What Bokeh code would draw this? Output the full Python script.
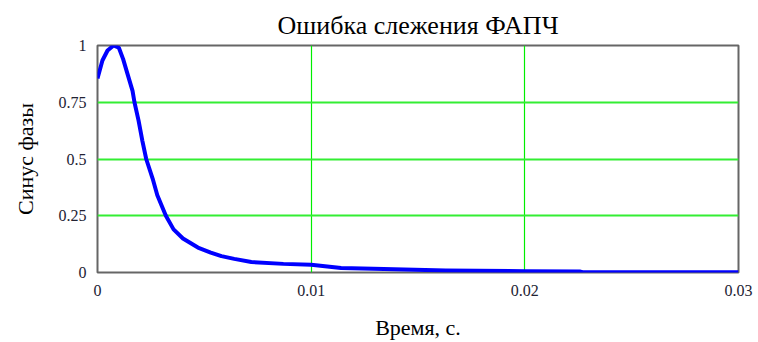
from bokeh.plotting import figure
from bokeh.models import FixedTicker, Range1d
from bokeh.embed import file_html
from bokeh.resources import INLINE

# Data
time_s = [0, 0.00023, 0.00047, 0.00075, 0.001, 0.0012, 0.0014, 0.00164, 0.00173,
          0.00192, 0.0021, 0.00228, 0.00258, 0.0028, 0.0032, 0.00356, 0.004, 0.0047,
          0.0053, 0.0058, 0.0064, 0.0072, 0.0087, 0.01, 0.0114, 0.0134, 0.0163,
          0.0200, 0.0226, 0.0227, 0.03]
sine_phase = [0.855, 0.934, 0.978, 1.0, 0.99, 0.94, 0.876, 0.80, 0.75, 0.67, 0.58,
              0.50, 0.414, 0.34, 0.25, 0.19, 0.15, 0.11, 0.088, 0.072, 0.06, 0.046,
              0.038, 0.034, 0.02, 0.015, 0.009, 0.006, 0.004, 0.001, 0.001]
x_ticks = [0, 0.01, 0.02, 0.03]
x_tick_labels = ["0", "0.01", "0.02", "0.03"]
y_ticks = [0, 0.25, 0.5, 0.75, 1]
y_tick_labels = ["0", "0.25", "0.5", "0.75", "1"]
title_text = "Ошибка слежения ФАПЧ"

SERIF = "Liberation Serif"

p = figure(width=758, height=342, output_backend="svg", toolbar_location=None,
           x_range=Range1d(0, 0.03), y_range=Range1d(0, 1), title=title_text,
           min_border_left=97, min_border_right=20, min_border_top=45, min_border_bottom=70)

p.title.text_font = SERIF
p.title.text_font_style = "normal"
p.title.text_font_size = "26px"
p.title.align = "center"
p.title.vertical_align = "top"
p.title.standoff = 8
p.title.text_color = "#000000"

p.line(time_s, sine_phase, line_color="#0000ff", line_width=4, line_join="round")

for ax, ticks, labels in ((p.xaxis[0], x_ticks, x_tick_labels), (p.yaxis[0], y_ticks, y_tick_labels)):
    ax.ticker = FixedTicker(ticks=ticks)
    ax.major_label_overrides = {t: l for t, l in zip(ticks, labels)}
    ax.major_tick_line_color = None
    ax.minor_tick_line_color = None
    ax.axis_line_color = None
    ax.major_label_text_font = SERIF
    ax.major_label_text_font_size = "16px"
    ax.major_label_text_color = "#222233"
    ax.axis_label_text_font = SERIF
    ax.axis_label_text_font_style = "normal"
    ax.axis_label_text_font_size = "22px"
    ax.axis_label_text_color = "#000000"

p.xaxis.axis_label = "Время, с."
p.yaxis.axis_label = "Синус фазы"
p.xaxis.major_label_standoff = 6
p.yaxis.major_label_standoff = 5
p.xaxis.axis_label_standoff = 16
p.yaxis.axis_label_standoff = 18

p.xgrid.ticker = FixedTicker(ticks=[0.01, 0.02])
p.ygrid.ticker = FixedTicker(ticks=[0.25, 0.5, 0.75])
p.xgrid.grid_line_color = "#00ee00"
p.xgrid.grid_line_width = 1.2
p.ygrid.grid_line_color = "#33ee33"
p.ygrid.grid_line_width = 2

p.outline_line_color = "#666666"
p.outline_line_width = 2
p.background_fill_color = "white"
p.border_fill_color = "white"

open("out.html", "w").write(file_html(p, INLINE))
